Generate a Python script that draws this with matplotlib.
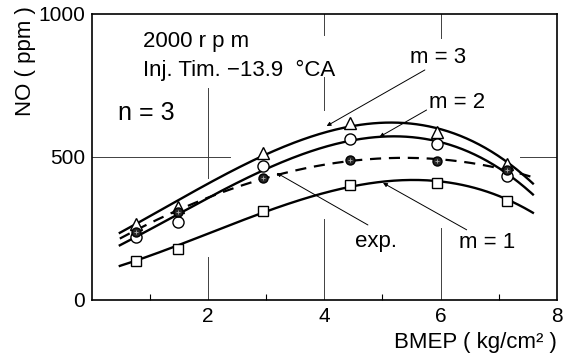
import numpy as np
import matplotlib
matplotlib.use("Agg")
import matplotlib.pyplot as plt

plt.rcParams['font.family'] = ['Liberation Sans', 'DejaVu Sans']

# BMEP at the measured / computed points (kg/cm^2)
bmep = [0.76, 1.48, 2.94, 4.44, 5.94, 7.14]

# NO (ppm) for the three model settings and the experiment
no_m3 = [266, 325, 514, 619, 587, 476]
no_m2 = [220, 273, 469, 563, 545, 434]
no_m1 = [136, 178, 311, 402, 409, 346]
no_exp = [238, 308, 427, 490, 486, 455]

# curve ends read beyond the first / last point
curve_x0, curve_x1 = 0.48, 7.59
m3_ends = (245, 416)
m2_ends = (203, 378)
m1_ends = (126, 311)
exp_ends = (222, 430)


def smooth(xs, ys, ends, deg=3):
    xx = [curve_x0] + list(xs) + [curve_x1]
    yy = [ends[0]] + list(ys) + [ends[1]]
    p = np.polyfit(xx, yy, deg)
    xf = np.linspace(curve_x0, curve_x1, 200)
    return xf, np.polyval(p, xf)


fig = plt.figure(figsize=(5.71, 3.57), dpi=100)
ax = fig.add_axes([0.161, 0.160, 0.814, 0.801])
ax.set_xlim(0, 8)
ax.set_ylim(0, 1000)

# broken reference lines
gl = dict(color='0.25', lw=0.7)
ax.axvline(2, 0.427, 0.741, **gl)
ax.axvline(2, 0.0, 0.15, **gl)
ax.axvline(4, 0.927, 1.0, **gl)
ax.axvline(4, 0.664, 0.78, **gl)
ax.axvline(4, 0.0, 0.283, **gl)
ax.axvline(6, 0.916, 1.0, **gl)
ax.axvline(6, 0.0, 0.252, **gl)
ax.axhline(500, 0.0, 0.297, **gl)
ax.axhline(500, 0.92, 1.0, **gl)

for ys, ends, mk in [(no_m3, m3_ends, '^'), (no_m2, m2_ends, 'o'), (no_m1, m1_ends, 's')]:
    xf, yf = smooth(bmep, ys, ends)
    ax.plot(xf, yf, color='k', lw=1.7, zorder=2)
    ax.plot(bmep, ys, ls='none', marker=mk, ms=8 if mk != 's' else 7.5,
            mfc='white', mec='k', mew=1.0, zorder=3)

xf, yf = smooth(bmep, no_exp, exp_ends)
ax.plot(xf, yf, color='k', lw=1.6, ls=(0, (5, 3.5)), zorder=2)
ax.plot(bmep, no_exp, ls='none', marker='o', ms=6.5, mfc='0.15', mec='k', zorder=4)
ax.plot(bmep, no_exp, ls='none', marker='+', ms=3.5, mec='0.7', mew=0.6, zorder=5)

arr = dict(arrowstyle='-|>', color='k', lw=0.7, mutation_scale=6, shrinkA=0, shrinkB=0)
ax.annotate('', xy=(4.04, 608), xytext=(5.73, 804), arrowprops=arr)
ax.annotate('', xy=(4.95, 570), xytext=(5.76, 664), arrowprops=arr)
ax.annotate('', xy=(3.18, 444), xytext=(4.75, 262), arrowprops=arr)
ax.annotate('', xy=(5.01, 409), xytext=(6.45, 245), arrowprops=arr)
ax.text(5.95, 846, 'm = 3', fontsize=16, ha='center', va='center')
ax.text(6.28, 689, 'm = 2', fontsize=16, ha='center', va='center')
ax.text(4.89, 205, 'exp.', fontsize=16, ha='center', va='center')
ax.text(6.80, 200, 'm = 1', fontsize=16, ha='center', va='center')

ax.text(0.88, 902, '2000 r p m', fontsize=16, ha='left', va='center')
ax.text(0.88, 804, 'Inj. Tim. \u221213.9  \u00b0CA', fontsize=16, ha='left', va='center')
ax.text(0.45, 654, 'n = 3', fontsize=18, ha='left', va='center')

ax.set_xticks([2, 4, 6, 8])
ax.set_xticklabels(['2', '4', '6', '8'])
ax.set_xticks([1, 3, 5, 7], minor=True)
ax.set_yticks([0, 500, 1000])
ax.tick_params(which='both', direction='in', labelsize=15, width=0.8)
ax.tick_params(which='major', length=0, pad=5)
ax.tick_params(which='minor', length=4)
for s in ax.spines.values():
    s.set_linewidth(1.2)

fig.text(0.044, 0.83, 'NO ( ppm )', rotation=90, fontsize=16, ha='center', va='center')
fig.text(0.832, 0.042, 'BMEP ( kg/cm\u00b2 )', fontsize=16, ha='center', va='center')

fig.savefig('out.png', dpi=100)
